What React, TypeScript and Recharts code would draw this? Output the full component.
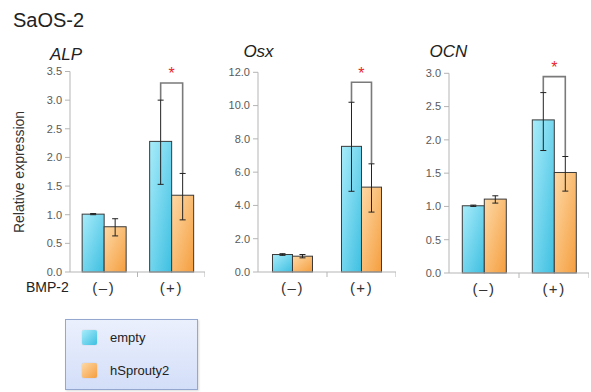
import React from 'react';
import { Bar, BarChart, ErrorBar, XAxis, YAxis } from 'recharts';

// categories (BMP-2 treatment)
const categories = ['(–)', '(+)'];
const seriesNames = ['empty', 'hSprouty2'];

// ALP
const alpEmpty = [1.01, 2.28];
const alpEmptyErr = [[0.01, 0.01], [0.75, 0.72]];
const alpSprouty = [0.79, 1.34];
const alpSproutyErr = [[0.16, 0.14], [0.43, 0.38]];
const alpTicks = [0, 0.5, 1, 1.5, 2, 2.5, 3, 3.5];

// Osx
const osxEmpty = [1.05, 7.55];
const osxEmptyErr = [[0.05, 0.05], [2.7, 2.65]];
const osxSprouty = [0.95, 5.1];
const osxSproutyErr = [[0.1, 0.1], [1.5, 1.4]];
const osxTicks = [0, 2, 4, 6, 8, 10, 12];

// OCN
const ocnEmpty = [1.01, 2.3];
const ocnEmptyErr = [[0.01, 0.01], [0.46, 0.41]];
const ocnSprouty = [1.11, 1.51];
const ocnSproutyErr = [[0.06, 0.05], [0.28, 0.24]];
const ocnTicks = [0, 0.5, 1, 1.5, 2, 2.5, 3];

// significance bracket level per gene (only on the (+) group)
const bracketLevels = [3.3, 11.4, 2.95];

const FONT = '"Liberation Sans", Arial, sans-serif';
const AXIS = '#b5b5b5';

type Row = {
  cat: string;
  empty: number;
  sprouty: number;
  emptyErr: number[];
  sproutyErr: number[];
  bracket: number | null;
};

function makeRows(e: number[], eErr: number[][], s: number[], sErr: number[][], bracket: number): Row[] {
  return categories.map((cat, i) => ({
    cat,
    empty: e[i],
    sprouty: s[i],
    emptyErr: eErr[i],
    sproutyErr: sErr[i],
    bracket: i === 1 ? bracket : null,
  }));
}

const panels = [
  { title: 'ALP', rows: makeRows(alpEmpty, alpEmptyErr, alpSprouty, alpSproutyErr, bracketLevels[0]), ticks: alpTicks, axisX: 70, top: 71.5, bottom: 272, catW: 67.5, gap: '18%', titleX: 66, titleY: 54 },
  { title: 'Osx', rows: makeRows(osxEmpty, osxEmptyErr, osxSprouty, osxSproutyErr, bracketLevels[1]), ticks: osxTicks, axisX: 258, top: 72.3, bottom: 272, catW: 69, gap: '21%', titleX: 258.5, titleY: 51.5 },
  { title: 'OCN', rows: makeRows(ocnEmpty, ocnEmptyErr, ocnSprouty, ocnSproutyErr, bracketLevels[2]), ticks: ocnTicks, axisX: 449, top: 73.3, bottom: 273, catW: 70, gap: '19%', titleX: 448.5, titleY: 51 },
];

const Y_W = 50;
const X_H = 34;

// blue bar, also draws the significance bracket between the two bars of its group
function EmptyShape(props: any) {
  const { x, y, width, height, payload } = props;
  const base = y + height;
  const perUnit = height / payload.empty;
  const py = (v: number) => base - v * perUnit;
  let bracket = null;
  if (payload.bracket != null) {
    const by = py(payload.bracket);
    const lx = x + width / 2;
    const rx = x + width * 1.5;
    const ly = py(payload.empty + payload.emptyErr[1]);
    const ry = py(payload.sprouty + payload.sproutyErr[1]);
    bracket = (
      <g>
        <path d={`M${lx},${ly} L${lx},${by} L${rx},${by} L${rx},${ry}`} fill="none" stroke="#7a7a7a" strokeWidth={1.6} />
        <text x={(lx + rx) / 2} y={by - 9} textAnchor="middle" dominantBaseline="central" fontSize={16} fill="#e8262a" fontFamily={FONT}>*</text>
      </g>
    );
  }
  return (
    <g>
      <rect x={x} y={y} width={width} height={height} fill="url(#gBlue)" stroke="#3a3a3a" strokeWidth={1} />
      {bracket}
    </g>
  );
}

function SproutyShape(props: any) {
  const { x, y, width, height } = props;
  return <rect x={x} y={y} width={width} height={height} fill="url(#gOrange)" stroke="#3a3a3a" strokeWidth={1} />;
}

function CatTick(props: any) {
  const { x, y, payload, catW } = props;
  return (
    <g>
      <text x={x} y={y + 15} textAnchor="middle" dominantBaseline="central" fontSize={15} letterSpacing={1.5} fill="#333" fontFamily={FONT}>
        {payload.value}
      </text>
      <line x1={x + catW / 2} x2={x + catW / 2} y1={y} y2={y + 5} stroke={AXIS} />
    </g>
  );
}

function Panel({ p }: { p: (typeof panels)[number] }) {
  const plotH = p.bottom - p.top;
  const width = Y_W + p.catW * 2;
  const height = p.top + plotH + X_H;
  const max = p.ticks[p.ticks.length - 1];
  return (
    <div style={{ position: 'absolute', left: p.axisX - Y_W, top: 0 }}>
      <BarChart width={width} height={height} data={p.rows} margin={{ top: p.top, right: 0, bottom: 0, left: 0 }} barCategoryGap={p.gap} barGap={0}>
        <defs>
          <linearGradient id="gBlue" x1="0" y1="0" x2="1" y2="1">
            <stop offset="0%" stopColor="#a8ecfa" />
            <stop offset="100%" stopColor="#3dbfe1" />
          </linearGradient>
          <linearGradient id="gOrange" x1="0" y1="0" x2="1" y2="1">
            <stop offset="0%" stopColor="#fdd9a6" />
            <stop offset="100%" stopColor="#f59e3e" />
          </linearGradient>
        </defs>
        <XAxis
          dataKey="cat"
          height={X_H}
          axisLine={{ stroke: AXIS }}
          tickLine={false}
          tickSize={0}
          tickMargin={0}
          tick={<CatTick catW={p.catW} />}
          interval={0}
        />
        <YAxis
          width={Y_W}
          domain={[0, max]}
          ticks={p.ticks}
          interval={0}
          tickFormatter={(v: number) => v.toFixed(1)}
          axisLine={{ stroke: AXIS }}
          tickLine={{ stroke: AXIS }}
          tickSize={5}
          tickMargin={3}
          tick={{ fontSize: 11, fill: '#5a5a5a', fontFamily: FONT }}
        />
        <Bar dataKey="empty" shape={<EmptyShape />} isAnimationActive={false}>
          <ErrorBar dataKey="emptyErr" width={3} stroke="#222" strokeWidth={1} />
        </Bar>
        <Bar dataKey="sprouty" shape={<SproutyShape />} isAnimationActive={false}>
          <ErrorBar dataKey="sproutyErr" width={3} stroke="#222" strokeWidth={1} />
        </Bar>
      </BarChart>
    </div>
  );
}

const swatches = ['linear-gradient(135deg, #a8ecfa, #3dbfe1)', 'linear-gradient(135deg, #fdd9a6, #f59e3e)'];

export default function App() {
  const text = (s: React.CSSProperties): React.CSSProperties => ({ position: 'absolute', fontFamily: FONT, whiteSpace: 'nowrap', ...s });
  return (
    <div style={{ position: 'absolute', left: 0, top: 0, width: 591, height: 392, background: '#fff', overflow: 'hidden' }}>
      <div style={text({ left: 13, top: 10, fontSize: 20, lineHeight: '20px', color: '#222' })}>SaOS-2</div>
      {panels.map((p) => (
        <div key={p.title} style={text({ left: p.titleX - 40, width: 80, textAlign: 'center', top: p.titleY - 8.5, fontSize: 17, lineHeight: '17px', fontStyle: 'italic', color: '#222' })}>
          {p.title}
        </div>
      ))}
      <div style={text({ left: 19 - 100, width: 200, textAlign: 'center', top: 172 - 7, fontSize: 14, lineHeight: '14px', color: '#333', transform: 'rotate(-90deg)' })}>
        Relative expression
      </div>
      <div style={text({ left: 26, top: 287 - 7, fontSize: 14, lineHeight: '14px', color: '#222' })}>BMP-2</div>
      {panels.map((p) => (
        <Panel key={p.title} p={p} />
      ))}
      <div style={{ position: 'absolute', left: 65, top: 319, width: 131, height: 69, border: '1px solid #93a7cf', background: 'linear-gradient(#ebf0fd, #d3def8)', boxShadow: '1px 1px 2px rgba(0,0,0,0.15)' }}>
        {seriesNames.map((name, i) => (
          <div key={name}>
            <div style={{ position: 'absolute', left: 16, top: 10 + i * 33, width: 15, height: 15, borderRadius: 2, background: swatches[i], boxShadow: '0 0 1px rgba(0,0,0,0.3)' }} />
            <div style={text({ left: 44, top: 11 + i * 33, fontSize: 13, lineHeight: '13px', color: '#222' })}>{name}</div>
          </div>
        ))}
      </div>
    </div>
  );
}
